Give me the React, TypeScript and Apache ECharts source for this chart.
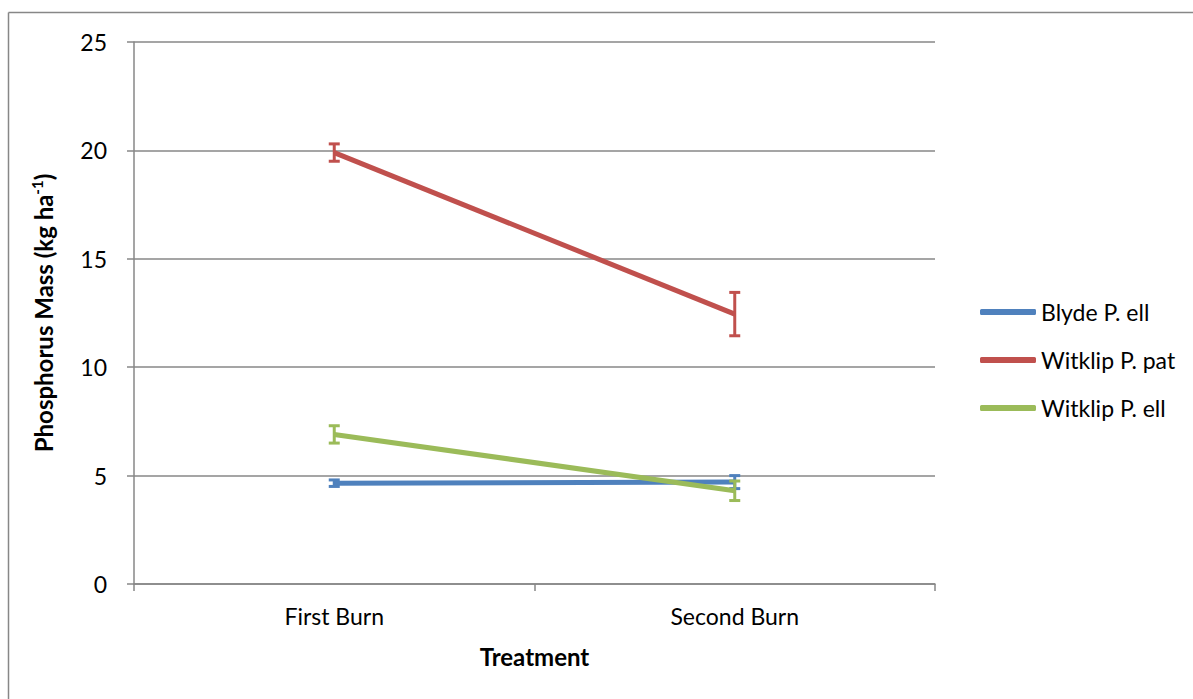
import React, { useEffect, useRef } from "react";
import * as echarts from "echarts";

const categories = ["First Burn", "Second Burn"];
const seriesNames = ["Blyde P. ell", "Witklip P. pat", "Witklip P. ell"];
const blydePEll = [4.65, 4.7];
const witklipPPat = [19.9, 12.45];
const witklipPEll = [6.9, 4.3];
const blydePEllErr = [0.15, 0.3];
const witklipPPatErr = [0.4, 1.0];
const witklipPEllErr = [0.4, 0.45];
const colors = ["#4F81BD", "#C0504D", "#9BBB59"];
const xTitle = "Treatment";

const FONT = "Lato";
const GRAY = "#878787";

export default function App() {
  const ref = useRef<HTMLDivElement>(null);
  useEffect(() => {
    if (!ref.current) return;
    const chart = echarts.init(ref.current, undefined, { renderer: "svg" });
    const values = [blydePEll, witklipPPat, witklipPEll];
    const errs = [blydePEllErr, witklipPPatErr, witklipPEllErr];

    const lineSeries = values.map((v, i) => ({
      name: seriesNames[i],
      type: "line",
      data: v,
      symbol: "none",
      z: 3 + i,
      lineStyle: { color: colors[i], width: 5 },
      itemStyle: { color: colors[i] },
    }));

    const errSeries = values.map((v, i) => ({
      name: "err" + i,
      type: "custom",
      z: 3 + i,
      data: v.map((val, j) => [j, val - errs[i][j], val + errs[i][j]]),
      encode: { x: 0, y: [1, 2] },
      renderItem: (params: any, api: any) => {
        const x = api.value(0);
        const lo = api.coord([x, api.value(1)]);
        const hi = api.coord([x, api.value(2)]);
        const hw = 5.5;
        const st = { stroke: colors[i], lineWidth: 3 };
        return {
          type: "group",
          children: [
            { type: "line", shape: { x1: lo[0], y1: lo[1], x2: hi[0], y2: hi[1] }, style: st },
            { type: "line", shape: { x1: lo[0] - hw, y1: lo[1], x2: lo[0] + hw, y2: lo[1] }, style: st },
            { type: "line", shape: { x1: hi[0] - hw, y1: hi[1], x2: hi[0] + hw, y2: hi[1] }, style: st },
          ],
        };
      },
    }));

    chart.setOption({
      animation: false,
      textStyle: { fontFamily: FONT },
      grid: { left: 134, top: 42, right: 258, bottom: 115, containLabel: false },
      legend: {
        data: seriesNames,
        orient: "vertical",
        left: 975,
        top: 293,
        icon: "roundRect",
        itemWidth: 56,
        itemHeight: 6,
        itemGap: 20,
        textStyle: { fontFamily: FONT, fontSize: 23, color: "#000", lineHeight: 28 },
      },
      xAxis: {
        type: "category",
        data: categories,
        boundaryGap: true,
        axisLine: { lineStyle: { color: GRAY, width: 1.5 } },
        axisTick: { show: true, length: 7, lineStyle: { color: GRAY, width: 1.5 } },
        axisLabel: { margin: 20, fontSize: 23, color: "#000", fontFamily: FONT },
        name: xTitle,
        nameLocation: "middle",
        nameGap: 60,
        nameTextStyle: { fontSize: 24, fontWeight: "bold", color: "#000", fontFamily: FONT },
      },
      yAxis: {
        type: "value",
        min: 0,
        max: 25,
        interval: 5,
        axisLine: { show: true, lineStyle: { color: GRAY, width: 1.5 } },
        axisTick: { show: true, length: 7, lineStyle: { color: GRAY, width: 1.5 } },
        axisLabel: { margin: 27, fontSize: 23, color: "#000", fontFamily: FONT },
        splitLine: { show: true, lineStyle: { color: GRAY, width: 1.5 } },
        name: "{a|Phosphorus Mass (kg ha}{b|-1}{a|)}",
        nameLocation: "middle",
        nameGap: 77,
        nameTextStyle: {
          rich: {
            a: { fontSize: 24, fontWeight: "bold", color: "#000", fontFamily: FONT, lineHeight: 28 },
            b: { fontSize: 15, fontWeight: "bold", color: "#000", fontFamily: FONT, verticalAlign: "top", lineHeight: 28 },
          },
        },
      },
      graphic: [
        { type: "line", shape: { x1: 8.5, y1: 12.5, x2: 1193, y2: 12.5 }, style: { stroke: GRAY, lineWidth: 1.5 } },
        { type: "line", shape: { x1: 8.5, y1: 12.5, x2: 8.5, y2: 699 }, style: { stroke: GRAY, lineWidth: 1.5 } },
      ],
      series: [...lineSeries, ...errSeries],
    });
    return () => chart.dispose();
  }, []);
  return (
    <div
      ref={ref}
      style={{ position: "fixed", left: 0, top: 0, width: 1193, height: 699, background: "#fff" }}
    />
  );
}
